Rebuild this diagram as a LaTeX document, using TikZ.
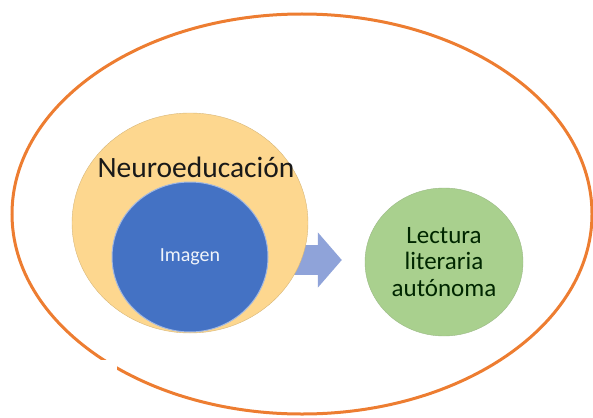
\documentclass[tikz,border=0pt]{standalone}
\usepackage{fontspec}
\setmainfont{Carlito}
\usetikzlibrary{shapes.geometric,arrows.meta}
\definecolor{marco}{RGB}{237,125,49}
\definecolor{oro}{RGB}{253,215,143}
\definecolor{azul}{RGB}{68,114,196}
\definecolor{verde}{RGB}{169,208,142}
\definecolor{flecha}{RGB}{143,163,217}
\begin{document}
\begin{tikzpicture}[x=1pt,y=-1pt,
    blob/.style={ellipse,inner sep=0pt},
    bigarrow/.style={flecha,line width=30pt,-{Triangle[length=24pt,width=54pt]}}]
      \useasboundingbox (0,0) rectangle (593,417);
      \draw[marco,line width=3pt] (302,214) ellipse (290 and 200);
      \fill[white] (0,360) rectangle (117,417);
      \coordinate (arrowstart) at (288,260);
      \draw
        (444,262) node[blob,fill=verde,draw=verde!85!black!90,
          minimum width=158pt,minimum height=148pt,
          font=\fontsize{25}{26.5}\selectfont,text=black!85!green,align=center] (lect){Lectura\\literaria\\autónoma};
      \begin{scope}
        \draw[bigarrow,shorten >=23pt] (arrowstart) -- (arrowstart -| lect.west);
      \end{scope}
      \draw
        (190,223) node[blob,fill=oro,draw=oro!85!black,
          minimum width=236pt,minimum height=220pt] (neuro){}
        (190,257) node[blob,fill=azul,draw=azul!50!white,line width=1pt,
          minimum width=156pt,minimum height=150pt,
          font=\fontsize{20}{22}\selectfont,text=white!92!azul] (img){Imagen}
        (196,177) node[anchor=base,font=\fontsize{29.5}{31}\selectfont,text=black!90] (neurotext){Neuroeducación};
    \end{tikzpicture}
\end{document}
